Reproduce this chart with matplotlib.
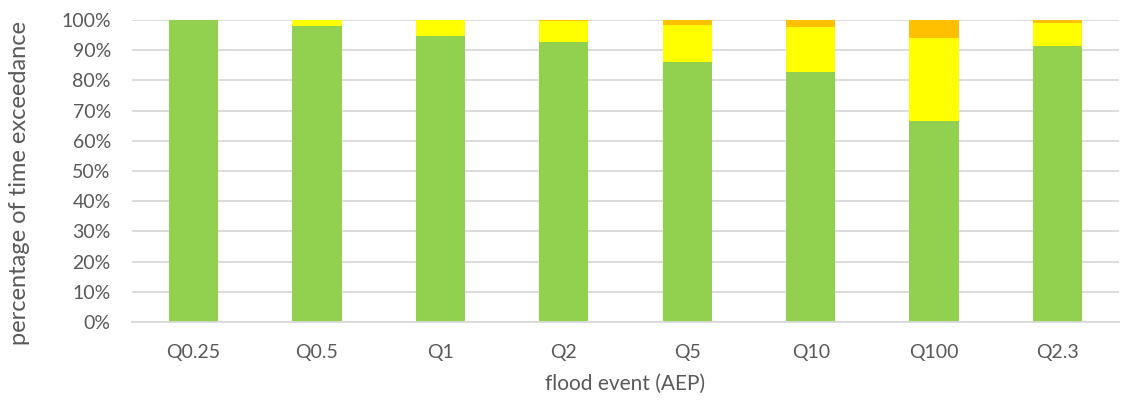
import matplotlib
matplotlib.use("Agg")
import matplotlib.pyplot as plt
import numpy as np

# Flood events (annual exceedance probability) and share of time in each band (%)
events = ["Q0.25", "Q0.5", "Q1", "Q2", "Q5", "Q10", "Q100", "Q2.3"]
green = [100.0, 98.0, 94.7, 92.6, 86.0, 82.7, 66.7, 91.5]
yellow = [0.0, 2.0, 5.3, 7.1, 12.2, 14.9, 27.4, 7.4]
orange = [0.0, 0.0, 0.0, 0.3, 1.8, 2.4, 5.9, 1.1]

plt.rcParams["font.family"] = ["Lato", "DejaVu Sans"]
text_col = "#595959"
grid_col = "#D9D9D9"

fig = plt.figure(figsize=(11.25, 4.05), dpi=100)
ax = fig.add_axes([0.117, 0.205, 0.878, 0.7455])

x = np.arange(len(events))
w = 0.4
g = np.array(green)
yv = np.array(yellow)
o = np.array(orange)
ax.bar(x, g, w, color="#92D050", zorder=3)
ax.bar(x, yv, w, bottom=g, color="#FFFF00", zorder=3)
ax.bar(x, o, w, bottom=g + yv, color="#FFC000", zorder=3)

ax.set_xlim(-0.5, len(events) - 0.5)
ax.set_ylim(0, 100)
ax.set_yticks(np.arange(0, 101, 10))
ax.set_yticklabels([f"{v}%" for v in range(0, 101, 10)])
ax.set_xticks(x)
ax.set_xticklabels(events)

ax.yaxis.grid(True, color=grid_col, linewidth=1.3, zorder=0)
for s in ["top", "right", "left"]:
    ax.spines[s].set_visible(False)
ax.spines["bottom"].set_color(grid_col)
ax.spines["bottom"].set_linewidth(1.3)
ax.spines["bottom"].set_zorder(4)

ax.tick_params(axis="y", length=0, pad=15, labelsize=14, labelcolor=text_col)
ax.tick_params(axis="x", length=0, pad=16, labelsize=14, labelcolor=text_col)

ax.set_ylabel("percentage of time exceedance", fontsize=17, color=text_col)
ax.yaxis.set_label_coords(-0.103, 0.46)
ax.set_xlabel("flood event (AEP)", fontsize=15, color=text_col, labelpad=9)

fig.savefig("out.png", dpi=100)
